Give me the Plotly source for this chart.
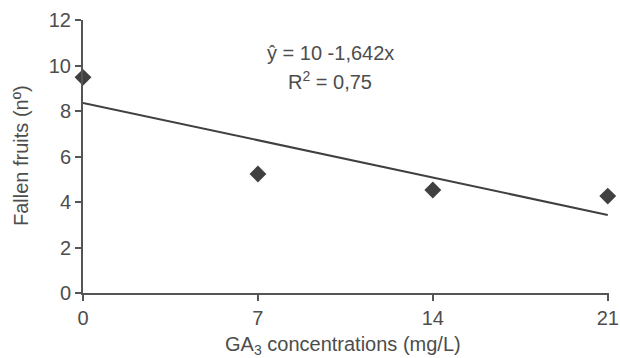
import plotly.graph_objects as go

conc = [0, 7, 14, 21]
fallen = [9.48, 5.23, 4.53, 4.26]
trend_x = [0, 21]
trend_y = [8.358, 3.432]
x_ticks = [0, 7, 14, 21]
y_ticks = [0, 2, 4, 6, 8, 10, 12]

gray = "#404040"
axis_gray = "#555555"
text_gray = "#4d4d4d"
font = "Liberation Sans, Arial, sans-serif"

L, R, T, B = 83, 11, 20, 65
W, H = 620, 358
pw = W - L - R
ph = H - T - B

def px2paper(px, py):
    return (px - L) / pw, 1 - (py - T) / ph

fig = go.Figure()
fig.add_trace(go.Scatter(x=trend_x, y=trend_y, mode="lines",
                         line=dict(color=gray, width=2), showlegend=False, cliponaxis=False))
fig.add_trace(go.Scatter(x=conc, y=fallen, mode="markers",
                         marker=dict(symbol="diamond", size=13, color=gray),
                         showlegend=False, cliponaxis=False))

ann = []
for (px, py, txt, ang) in [
    (330, 53, "ŷ = 10 -1,642x", 0),
    (330, 80, "R<sup>2</sup> = 0,75", 0),
    (343, 345, "GA<sub>3</sub> concentrations (mg/L)", 0),
    (21, 156, "Fallen fruits (nº)", -90),
]:
    x, y = px2paper(px, py)
    ann.append(dict(x=x, y=y, xref="paper", yref="paper", showarrow=False,
                    text=txt, textangle=ang, xanchor="center", yanchor="middle",
                    font=dict(size=20, color=text_gray, family=font)))

fig.update_layout(
    width=W, height=H,
    margin=dict(l=L, r=R, t=T, b=B, autoexpand=False),
    paper_bgcolor="white", plot_bgcolor="white",
    font=dict(family=font, size=20, color=text_gray),
    xaxis=dict(range=[0, 21.05], tickvals=x_ticks, ticks="outside", ticklen=6, tickwidth=2,
               tickcolor=axis_gray, showline=True, linecolor=axis_gray, linewidth=2,
               showgrid=False, zeroline=False, automargin=False),
    yaxis=dict(range=[0, 12], tickvals=y_ticks, ticks="outside", ticklen=6, tickwidth=2,
               tickcolor=axis_gray, showline=True, linecolor=axis_gray, linewidth=2,
               showgrid=False, zeroline=False, automargin=False),
    annotations=ann,
)

fig.write_html("out.html", config={"displayModeBar": False},
               post_script="document.body.style.margin='0';document.body.style.overflow='hidden';")
